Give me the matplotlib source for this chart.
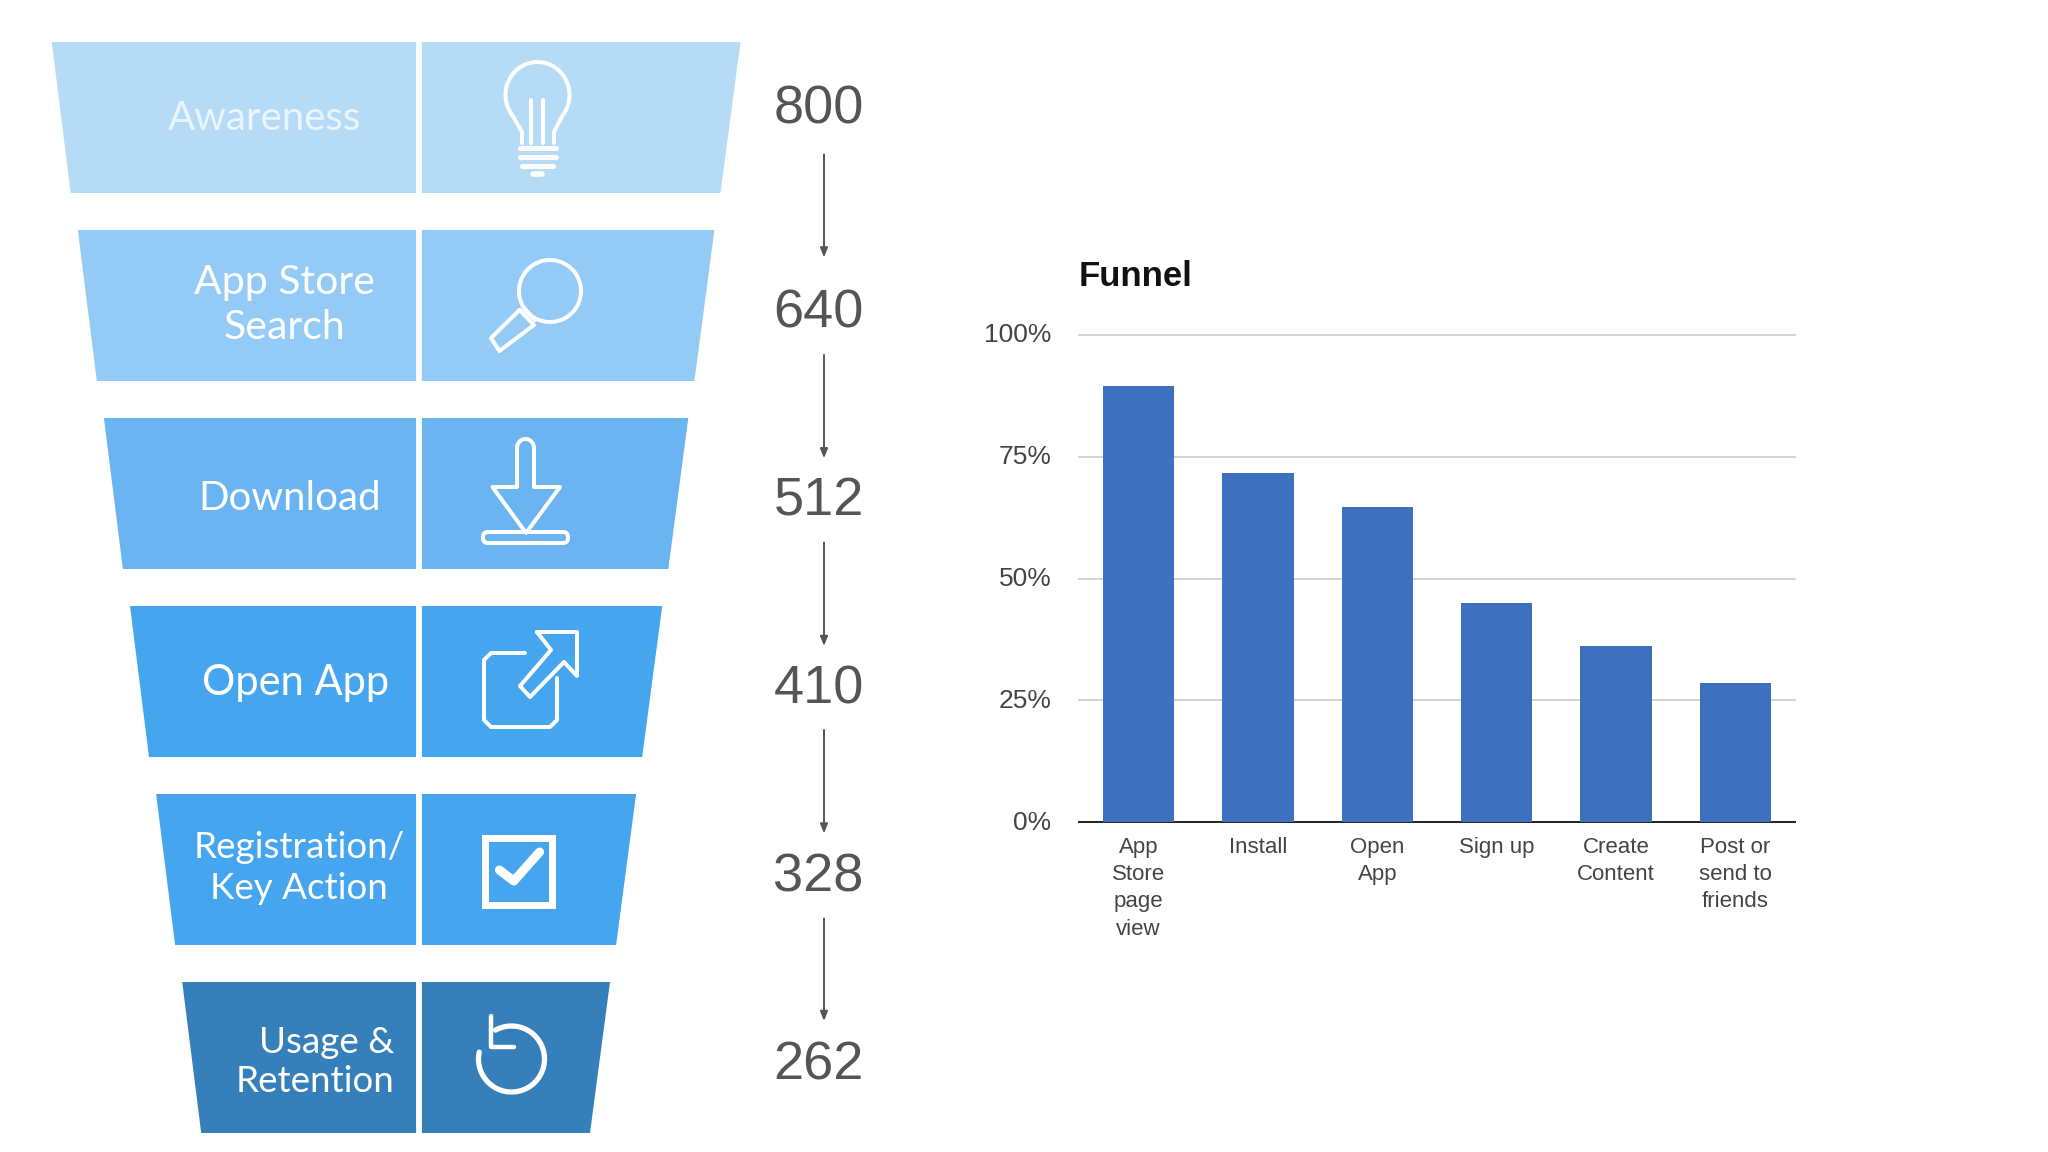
import numpy as np
import matplotlib
matplotlib.use("Agg")
import matplotlib.pyplot as plt
from matplotlib.patches import Polygon, FancyBboxPatch
from matplotlib.transforms import ScaledTranslation

stage_labels = ["Awareness", "App Store\nSearch", "Download", "Open App", "Registration/\nKey Action", "Usage &\nRetention"]
stage_counts = [800, 640, 512, 410, 328, 262]
stage_colors = ["#B5DBF7", "#93CBF6", "#69B4F1", "#45A5EF", "#45A5EF", "#3580BA"]
categories = ["App\nStore\npage\nview", "Install", "Open\nApp", "Sign up", "Create\nContent", "Post or\nsend to\nfriends"]
funnel_pct = [89.6, 71.6, 64.6, 44.9, 36.1, 28.6]
y_ticks = [0, 25, 50, 75, 100]

W, H = 2048, 1152
fig = plt.figure(figsize=(W/100, H/100), dpi=100, facecolor="white")
bg = fig.add_axes([0, 0, 1, 1])
bg.set_xlim(0, W); bg.set_ylim(H, 0); bg.axis("off")

LW = 4 * 0.72
TEXT_X = [265, 284, 290, 296, 299, 315]
TEXT_Y = [118.6, 305, 498, 683, 868, 1062]
TEXT_SIZE = [29, 29.5, 29, 30, 26.5, 26.5]
TEXT_LS = [1.0, 1.27, 1.0, 1.0, 1.33, 1.2]
NUM_Y = [109, 313.5, 502, 689, 877, 1065]

for i, (lab, cnt, col) in enumerate(zip(stage_labels, stage_counts, stage_colors)):
    top = 42 + 188 * i
    bot = top + 151
    lt, rt = 51.7 + 26.1 * i, 740.5 - 26.1 * i
    bg.add_patch(Polygon([(lt, top), (rt, top), (rt - 20, bot), (lt + 19, bot)], closed=True, fc=col, ec="none"))
    bg.plot([418.5, 418.5], [top, bot], color="white", lw=4.2, solid_capstyle="butt")
    txtcol = "#E9F5FD" if i == 0 else "white"
    bg.text(TEXT_X[i], TEXT_Y[i], lab, ha="center", va="center", color=txtcol, fontsize=TEXT_SIZE[i],
            family="Lato", linespacing=TEXT_LS[i], multialignment="center" if i != 5 else "right")
    bg.text(818.6, NUM_Y[i], str(cnt), ha="center", va="center", color="#555555", fontsize=39, family="Liberation Sans")

# arrows between counts
arrow_pairs = [(154.5, 257.4), (355, 458.3), (542.5, 646), (730, 833.5), (918.5, 1021)]
for y0, y1 in arrow_pairs:
    bg.annotate("", xy=(824, y1), xytext=(824, y0),
                arrowprops=dict(arrowstyle="-|>,head_width=0.22,head_length=0.55", color="#555555", lw=1.4, shrinkA=0, shrinkB=0))

def line(xs, ys, lw=LW, color="white"):
    bg.plot(xs, ys, color=color, lw=lw, solid_capstyle="round", solid_joinstyle="round")

# bulb icon
t = np.radians(np.linspace(220, -40, 60))
bx = 537.5 + 32 * np.cos(t); by = 95 - 33 * np.sin(t)
line(np.r_[522, 522, bx, 554, 554], np.r_[143, 132, by, 132, 143])
line([531, 531], [100, 143]); line([543, 543], [100, 143])
for yy, x0, x1 in [(148, 520, 556), (157, 520, 556), (166, 522, 553)]:
    line([x0, x1], [yy, yy], lw=3.6)
line([533, 542], [174, 174], lw=4)

# magnifier icon
t = np.radians(np.linspace(0, 360, 90))
line(550 + 31 * np.cos(t), 291 + 31 * np.sin(t))
line([519.5, 534, 499.4, 491, 519.5], [310, 325, 351, 338, 310])
line([524, 535], [308, 320])

# download icon
line([517, 517, 492.5, 526, 560, 534, 534], [448, 487, 487, 533, 487, 487, 448])
t = np.radians(np.linspace(180, 0, 20))
line(525.5 + 8.5 * np.cos(t), 448 - 9 * np.sin(t))
bg.add_patch(FancyBboxPatch((483, 532), 85, 11, boxstyle="round,pad=0,rounding_size=5", fc="none", ec="white", lw=LW))

# open-app icon
line([525, 491, 484, 484, 491, 550, 557, 557], [653, 653, 660, 720, 727, 727, 720, 678])
line([537, 577, 577, 564, 530, 520, 551, 537], [632, 632, 676, 662, 697, 686, 650, 632])

# check icon
bg.add_patch(plt.Rectangle((484.5, 837.5), 67, 67, fc="none", ec="white", lw=5))
line([499.4, 513.8, 539.6], [870, 881, 852], lw=6.5)

# refresh icon
t = np.radians(np.linspace(119, -192, 80))
line(511.5 + 33 * np.cos(t), 1059 - 33 * np.sin(t), lw=3.8)
line([491, 491, 514], [1016, 1047, 1047], lw=3.2)

# bar chart
ax = fig.add_axes([1079/W, 1 - 822/H, (1795-1079)/W, (822-335)/H])
x = np.arange(len(categories))
ax.bar(x, funnel_pct, width=0.6, color="#3F6FBF", zorder=3)
ax.set_xlim(-0.5, 5.5); ax.set_ylim(0, 100)
ax.set_yticks(y_ticks); ax.set_yticklabels([f"{v}%" for v in y_ticks], fontsize=19, color="#444444", family="Liberation Sans")
ax.set_xticks(x); ax.set_xticklabels(categories, fontsize=16, color="#444444", family="Liberation Sans", linespacing=1.38)
ax.tick_params(length=0)
ax.tick_params(axis="y", pad=20)
ax.tick_params(axis="x", pad=11)
for lbl in ax.get_yticklabels():
    lbl.set_transform(lbl.get_transform() + ScaledTranslation(0, 2/100, fig.dpi_scale_trans))
ax.grid(axis="y", color="#CCCCCC", lw=1.2, zorder=1, clip_on=False)
ax.grid(axis="x", visible=False)
for s in ("top", "left", "right"):
    ax.spines[s].set_visible(False)
ax.spines["bottom"].set_color("#222222"); ax.spines["bottom"].set_linewidth(1.4)
ax.set_facecolor("none")
fig.text(1079/W, 1 - 277/H, "Funnel", fontsize=25, fontweight="bold", family="Liberation Sans", color="#111111", ha="left", va="center")

fig.savefig("out.png", dpi=100, facecolor="white")
